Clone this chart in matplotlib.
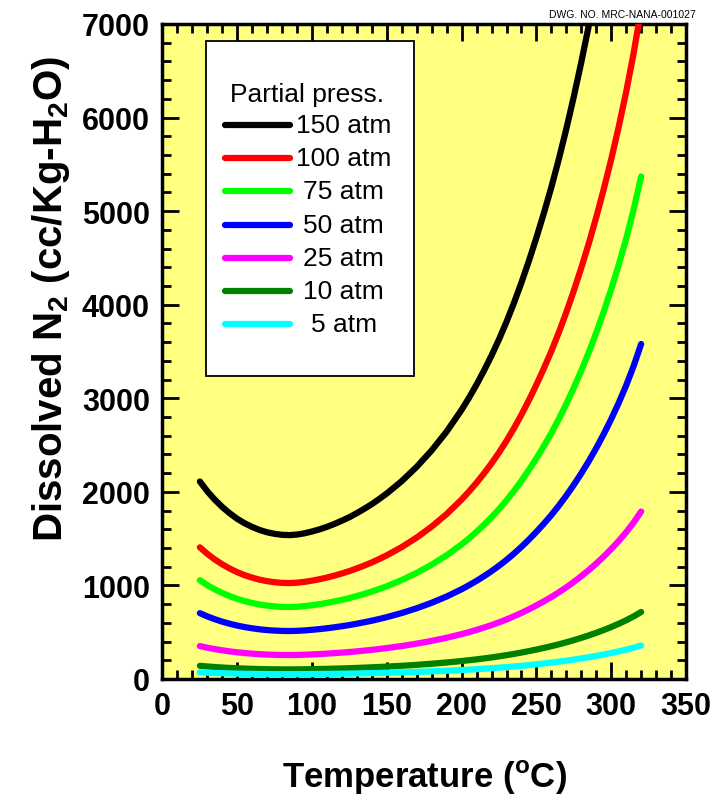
import matplotlib
matplotlib.use("Agg")
import matplotlib.pyplot as plt
from matplotlib.patches import Rectangle
from matplotlib.lines import Line2D
from matplotlib.ticker import MultipleLocator
import numpy as np

matplotlib.rcParams['font.family'] = 'Liberation Sans'
matplotlib.rcParams['mathtext.fontset'] = 'custom'
matplotlib.rcParams['mathtext.rm'] = 'Liberation Sans'
matplotlib.rcParams['mathtext.bf'] = 'Liberation Sans:bold'

# temperature grid (deg C) and dissolved N2 per atm of partial pressure
# (all curves scale with pressure)
temps = [25, 30, 35, 40, 45, 50, 55, 60, 65, 70, 75, 80, 85, 90, 95,
         100, 105, 110, 115, 120, 125, 130, 135, 140, 145, 150, 160,
         170, 180, 190, 200, 205, 210, 215, 220, 225, 230, 235, 240,
         245, 250, 255, 260, 265, 270, 275, 280, 285, 290, 295, 300,
         305, 310, 315, 320]
n2_per_atm = [14.07, 13.37, 12.77, 12.25, 11.80, 11.41, 11.09, 10.83,
              10.61, 10.45, 10.34, 10.27, 10.25, 10.29, 10.38,
              10.51, 10.66, 10.84, 11.05, 11.28, 11.53, 11.82, 12.13,
              12.46, 12.83, 13.22, 14.10, 15.12, 16.29, 17.63, 19.18,
              20.05, 20.98, 21.98, 23.05, 24.2, 25.45, 26.8, 28.25,
              29.8, 31.45, 33.2, 35.05, 37.05, 39.2, 41.5, 43.95,
              46.55, 49.35, 52.35, 55.55, 59.0, 62.75, 66.9, 71.6]

pressures = [150, 100, 75, 50, 25, 10, 5]
labels = ['150 atm', '100 atm', '75 atm', '50 atm', '25 atm', '10 atm', '5 atm']
colors = ['#000000', '#FF0000', '#00FF00', '#0000FF', '#FF00FF', '#008000', '#00FFFF']

fig = plt.figure(figsize=(7.17, 8.03), dpi=100)
ax = fig.add_axes([0.2266, 0.1532, 0.7302, 0.8157])
ax.set_facecolor('#FFFF80')

base = np.array(n2_per_atm)
for p, c in zip(pressures, colors):
    ax.plot(temps, p * base, color=c, lw=4.5, solid_capstyle='round',
            solid_joinstyle='round', zorder=3)

ax.set_xlim(0, 350)
ax.set_ylim(0, 7000)
ax.xaxis.set_major_locator(MultipleLocator(50))
ax.xaxis.set_minor_locator(MultipleLocator(10))
ax.yaxis.set_major_locator(MultipleLocator(1000))
ax.yaxis.set_minor_locator(MultipleLocator(200))
ax.tick_params(which='both', direction='in', top=True, right=True, width=2)
ax.tick_params(which='major', length=12.5, labelsize=22, pad=9)
ax.tick_params(which='minor', length=6.5)
for lab in ax.get_xticklabels() + ax.get_yticklabels():
    lab.set_fontweight('bold')
for s in ax.spines.values():
    s.set_linewidth(2.5)

ax.set_xlabel(r'Temperature ($^\mathbf{o}$C)', fontsize=25,
              fontweight='bold', labelpad=26)
ax.set_ylabel(r'Dissolved N$_\mathbf{2}$ (cc/Kg-H$_\mathbf{2}$O)', fontsize=29,
              fontweight='bold')
ax.yaxis.set_label_coords(-0.173, 0.582)

# legend box drawn by hand to match the original layout
ax.add_patch(Rectangle((0.083, 0.4626), 0.397, 0.5114, transform=ax.transAxes,
                       facecolor='white', edgecolor='black', lw=1.3, zorder=5))
ax.text(0.2755, 0.893, 'Partial press.', transform=ax.transAxes,
        ha='center', va='center', fontsize=19, zorder=6)
y0, dy = 0.8462, 0.0508
for i, (lab, c) in enumerate(zip(labels, colors)):
    yy = y0 - i * dy
    ax.add_line(Line2D([0.1194, 0.2436], [yy, yy], transform=ax.transAxes,
                       color=c, lw=4.5, solid_capstyle='round', zorder=6))
    ax.text(0.3461, yy, lab, transform=ax.transAxes, ha='center',
            va='center', fontsize=19, zorder=6)

fig.text(0.970, 0.981, 'DWG. NO. MRC-NANA-001027', ha='right', va='center',
         fontsize=7.5)

fig.savefig('out.png', dpi=100)
